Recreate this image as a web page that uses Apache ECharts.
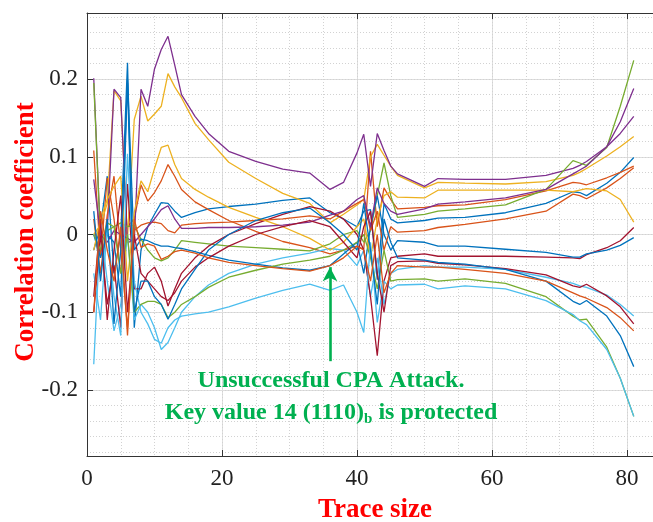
<!DOCTYPE html>
<html>
<head>
<meta charset="utf-8">
<script src="https://cdn.jsdelivr.net/npm/echarts@6/dist/echarts.min.js"></script>
<style>
  html, body { margin: 0; padding: 0; background: #ffffff; }
  #chart { width: 653px; height: 522px; }
</style>
</head>
<body>
<div id="chart"></div>
<script>
// Trace sizes at which the correlation of each key guess was sampled
const traceSize = [1,2,3,4,5,6,7,8,9,10,11,12,13,14,16,18,21,25,29,33,36,38,40,41,42,43,44,45,46,50,52,56,62,68,72,73,74,77,79,81];

// Correlation coefficient of every key guess (16 guesses for a 4-bit key)
const guess01 = [-0.02,0.01,0.075,-0.05,0.0,0.221,-0.12,-0.02,0.01,0.026, 0.041,0.04,0.03,0.022,0.028,0.033,0.036,0.039,0.044,0.047, 0.028,0.02,0.01,0.03,0.032,-0.058,0.04,0.02,0.015,0.018, 0.021,0.022,0.028,0.04,0.055,0.054,0.05,0.066,0.08,0.099];
const guess02 = [0.108,-0.03,0.073,0.02,-0.05,0.01,0.02,0.064,0.043,0.054, 0.069,0.09,0.075,0.058,0.042,0.032,0.018,0.004,-0.009,-0.017, -0.025,-0.02,-0.015,-0.019,0.107,0.01,0.06,0.045,0.033,0.035, 0.037,0.038,0.045,0.056,0.067,0.066,0.064,0.073,0.08,0.088];
const guess03 = [0.0,0.012,0.04,0.185,0.172,-0.005,0.148,0.178,0.146,0.155, 0.165,0.207,0.19,0.176,0.143,0.122,0.093,0.072,0.053,0.04, 0.015,0.026,0.038,0.045,0.1,0.116,0.102,0.088,0.076,0.06, 0.067,0.066,0.065,0.068,0.076,0.08,0.085,0.101,0.113,0.126];
const guess04 = [0.201,-0.005,0.005,0.187,0.176,-0.01,-0.008,0.187,0.165,0.213, 0.238,0.255,0.218,0.18,0.152,0.13,0.107,0.094,0.084,0.079, 0.058,0.067,0.105,0.129,0.062,0.13,0.108,0.088,0.078,0.062, 0.072,0.071,0.071,0.076,0.085,0.089,0.094,0.113,0.13,0.152];
const guess05 = [0.195,-0.005,0.005,0.01,0.015,0.01,0.012,-0.006,-0.02,-0.03, -0.034,-0.03,-0.02,-0.008,-0.01,-0.012,-0.015,-0.017,-0.019,-0.021, -0.012,0.0,0.005,-0.01,0.005,0.05,0.092,0.05,0.022,0.026, 0.03,0.033,0.038,0.058,0.095,0.092,0.089,0.112,0.165,0.224];
const guess06 = [-0.167,0.011,-0.06,-0.124,-0.09,0.0,-0.11,-0.09,-0.1,-0.12, -0.148,-0.139,-0.12,-0.1,-0.08,-0.065,-0.05,-0.038,-0.03,-0.024, -0.018,-0.02,-0.04,-0.02,-0.08,-0.03,-0.09,-0.05,-0.045,-0.04, -0.042,-0.042,-0.045,-0.055,-0.063,-0.066,-0.068,-0.078,-0.09,-0.105];
const guess07 = [-0.1,0.0,-0.09,-0.04,-0.12,0.065,-0.07,-0.07,-0.05,-0.042, -0.06,-0.092,-0.07,-0.05,-0.03,-0.015,0.0,0.014,0.026,0.036, 0.03,0.02,0.0,-0.02,-0.08,-0.156,-0.06,-0.03,-0.028,-0.025, -0.028,-0.028,-0.028,-0.029,-0.03,-0.031,-0.026,-0.017,-0.008,0.009];
const guess08 = [0.0,-0.03,0.0,-0.01,-0.08,0.2,-0.02,-0.006,-0.008,-0.012, -0.015,-0.015,-0.017,-0.018,-0.022,-0.027,-0.033,-0.038,-0.043,-0.046, -0.04,-0.025,-0.01,-0.05,0.01,0.05,0.0,-0.02,-0.008,-0.01, -0.015,-0.015,-0.019,-0.023,-0.029,-0.029,-0.025,-0.02,-0.014,-0.004];
const guess09 = [0.02,-0.05,0.025,0.075,-0.02,-0.12,0.005,0.012,0.015,0.016, 0.014,0.005,0.002,0.012,0.014,0.015,0.016,0.018,0.02,0.024, 0.02,0.03,0.04,0.045,0.005,0.03,-0.02,0.01,0.003,0.005, 0.009,0.013,0.02,0.03,0.052,0.05,0.046,0.06,0.072,0.086];
const guess10 = [-0.02,0.02,0.045,0.062,0.075,-0.06,0.028,0.069,0.055,0.085, 0.112,0.115,0.09,0.072,0.058,0.048,0.035,0.022,0.01,-0.005, -0.02,-0.01,0.01,0.02,-0.03,0.02,0.05,0.055,0.048,0.047, 0.057,0.057,0.057,0.057,0.055,0.057,0.059,0.056,0.045,0.016];
const guess11 = [0.071,0.0,-0.01,0.005,0.0,-0.005,-0.01,0.0,0.01,0.02, 0.032,0.037,0.02,0.008,0.008,0.009,0.009,0.01,0.012,0.016, 0.025,0.03,0.045,0.05,0.01,0.06,0.04,0.03,0.026,0.033, 0.039,0.042,0.047,0.058,0.078,0.083,0.088,0.113,0.145,0.188];
const guess12 = [0.0,-0.02,0.015,0.01,-0.05,0.0,-0.1,-0.09,-0.086,-0.086, -0.09,-0.107,-0.1,-0.09,-0.08,-0.068,-0.055,-0.046,-0.038,-0.033, -0.028,-0.02,-0.01,0.0,-0.03,-0.07,-0.02,-0.06,-0.058,-0.057, -0.06,-0.057,-0.063,-0.08,-0.105,-0.11,-0.109,-0.145,-0.185,-0.234];
const guess13 = [-0.05,-0.11,0.01,-0.08,-0.13,0.104,-0.06,-0.1,-0.115,-0.135, -0.14,-0.12,-0.11,-0.105,-0.102,-0.1,-0.093,-0.082,-0.072,-0.064, -0.072,-0.065,-0.1,-0.126,-0.01,-0.113,-0.06,-0.07,-0.065,-0.064, -0.07,-0.066,-0.07,-0.085,-0.103,-0.111,-0.116,-0.148,-0.185,-0.234];
const guess14 = [-0.08,0.02,-0.11,-0.02,0.05,-0.1,0.0,-0.05,-0.06,-0.07, -0.08,-0.085,-0.075,-0.06,-0.042,-0.03,-0.015,0.0,0.01,0.018, 0.01,-0.01,-0.03,0.01,0.03,-0.05,-0.1,-0.04,-0.035,-0.034, -0.037,-0.039,-0.044,-0.052,-0.066,-0.068,-0.064,-0.079,-0.093,-0.115];
const guess15 = [0.03,-0.06,0.02,-0.115,-0.02,0.195,-0.1,-0.06,-0.06,-0.08, -0.09,-0.109,-0.09,-0.07,-0.045,-0.02,0.0,0.018,0.028,0.034, 0.015,0.0,-0.02,0.04,-0.02,-0.09,0.02,-0.01,-0.03,-0.033, -0.036,-0.038,-0.045,-0.06,-0.086,-0.09,-0.085,-0.105,-0.13,-0.17];
const guess16 = [-0.1,0.03,-0.02,-0.06,0.01,-0.13,0.02,-0.0165,-0.012,-0.015, -0.032,-0.028,-0.022,-0.02,-0.024,-0.03,-0.036,-0.04,-0.044,-0.047, -0.04,-0.03,-0.015,-0.02,-0.06,0.0,-0.075,-0.05,-0.04,-0.042, -0.042,-0.045,-0.05,-0.06,-0.075,-0.079,-0.082,-0.094,-0.107,-0.124];

const guesses = [guess01, guess02, guess03, guess04, guess05, guess06, guess07, guess08,
                 guess09, guess10, guess11, guess12, guess13, guess14, guess15, guess16];

// Default line colour order of the plotting tool
const lineColors = ['#0072BD', '#D95319', '#EDB120', '#7E2F8E', '#77AC30', '#4DBEEE', '#A2142F'];

// Axis limits and label text
const xLimit = [0, 83.85];
const yLimit = [-0.285, 0.285];
const yMinorLimit = [-0.28, 0.28];
const xTitle = 'Trace size';
const yTitle = 'Correlation coefficient';
const noteLine1 = 'Unsuccessful CPA Attack.';
const noteKey = 'Key value 14 (1110)';
const noteSub = 'b';
const noteTail = ' is protected';

// Arrow pointing at the correct-key curve
const arrowFrom = [36, -0.163];
const arrowTo = [36, -0.042];

// Plot box in pixels
const box = { left: 87, right: 0, top: 13, bottom: 66 };
const boxHeight = 522 - box.top - box.bottom;
const pxPerUnit = boxHeight / (yLimit[1] - yLimit[0]);
const inset = (yLimit[1] - yMinorLimit[1]) * pxPerUnit;

const serif = '"Liberation Serif", "Times New Roman", serif';
const axisColor = '#333333';
const majorGrid = '#dedede';
const minorGrid = '#d2d2d2';
const noteGreen = '#00B050';

const isMultiple = (v, step) => Math.abs(v / step - Math.round(v / step)) < 1e-6;

const hidden = { show: false };

const chart = echarts.init(document.getElementById('chart'), null, { renderer: 'canvas' });

const curveSeries = guesses.map((vals, i) => ({
  type: 'line',
  xAxisIndex: 0,
  yAxisIndex: 0,
  data: traceSize.map((x, j) => [x, vals[j]]),
  symbol: 'none',
  showSymbol: false,
  silent: true,
  animation: false,
  z: 3,
  lineStyle: { width: 1.3, color: lineColors[i % lineColors.length] },
  itemStyle: { color: lineColors[i % lineColors.length] }
}));

const arrowSeries = {
  type: 'line',
  xAxisIndex: 0,
  yAxisIndex: 0,
  data: [],
  silent: true,
  animation: false,
  z: 5,
  markLine: {
    silent: true,
    animation: false,
    symbol: ['none', 'arrow'],
    symbolSize: [11, 14],
    label: { show: false },
    lineStyle: { color: noteGreen, width: 2.6, type: 'solid' },
    data: [[{ coord: arrowFrom }, { coord: arrowTo }]]
  }
};

const option = {
  backgroundColor: '#ffffff',
  animation: false,
  grid: [
    { left: box.left, right: box.right, top: box.top, bottom: box.bottom, containLabel: false, outerBoundsMode: 'none' },
    { left: box.left, right: box.right, top: box.top, bottom: box.bottom, containLabel: false, outerBoundsMode: 'none' },
    { left: box.left, right: box.right, top: box.top + inset, bottom: box.bottom + inset, containLabel: false, outerBoundsMode: 'none' }
  ],
  xAxis: [
    {
      gridIndex: 0, type: 'value', min: xLimit[0], max: xLimit[1], position: 'bottom',
      axisLine: { show: true, onZero: false, lineStyle: { color: axisColor, width: 1 } },
      axisTick: { show: true, inside: true, length: 6, lineStyle: { color: axisColor } },
      axisLabel: {
        margin: 11, color: '#222222', fontFamily: serif, fontSize: 23,
        formatter: v => (isMultiple(v, 20) ? String(Math.round(v)) : '')
      },
      splitLine: { show: true, lineStyle: { color: majorGrid, width: 1 } }
    },
    {
      gridIndex: 0, type: 'value', min: xLimit[0], max: xLimit[1], position: 'top',
      axisLine: { show: true, onZero: false, lineStyle: { color: axisColor, width: 1 } },
      axisTick: { show: true, inside: true, length: 6, lineStyle: { color: axisColor } },
      axisLabel: hidden, splitLine: hidden
    },
    {
      gridIndex: 1, type: 'value', min: xLimit[0], max: xLimit[1], interval: 5,
      axisLine: hidden, axisTick: hidden, axisLabel: hidden,
      splitLine: { show: true, lineStyle: { color: minorGrid, width: 1, type: [1, 2] } }
    },
    {
      gridIndex: 2, type: 'value', min: xLimit[0], max: xLimit[1],
      axisLine: hidden, axisTick: hidden, axisLabel: hidden, splitLine: hidden
    }
  ],
  yAxis: [
    {
      gridIndex: 0, type: 'value', min: yLimit[0], max: yLimit[1], splitNumber: 5, position: 'left',
      axisLine: { show: true, onZero: false, lineStyle: { color: axisColor, width: 1 } },
      axisTick: { show: true, inside: true, length: 6, lineStyle: { color: axisColor } },
      axisLabel: {
        margin: 9, color: '#222222', fontFamily: serif, fontSize: 23,
        formatter: v => (isMultiple(v, 0.1) ? String(Math.round(v * 10) / 10) : '')
      },
      splitLine: { show: true, lineStyle: { color: majorGrid, width: 1 } }
    },
    {
      gridIndex: 1, type: 'value', min: yLimit[0], max: yLimit[1],
      axisLine: hidden, axisTick: hidden, axisLabel: hidden, splitLine: hidden
    },
    {
      gridIndex: 2, type: 'value', min: yMinorLimit[0], max: yMinorLimit[1], interval: 0.02,
      axisLine: hidden, axisTick: hidden, axisLabel: hidden,
      splitLine: { show: true, lineStyle: { color: minorGrid, width: 1, type: [1, 2] } }
    }
  ],
  series: curveSeries.concat([arrowSeries]),
  graphic: [
    {
      type: 'text', x: 26, y: 232, rotation: Math.PI / 2, z: 10,
      style: {
        text: yTitle, fill: '#FF0000', font: 'bold 27px ' + serif,
        align: 'center', verticalAlign: 'middle', textAlign: 'center', textVerticalAlign: 'middle'
      }
    },
    {
      type: 'text', x: 375, y: 510, z: 10,
      style: {
        text: xTitle, fill: '#FF0000', font: 'bold 27px ' + serif,
        align: 'center', verticalAlign: 'middle', textAlign: 'center', textVerticalAlign: 'middle'
      }
    },
    {
      type: 'text', x: 331, y: 381, z: 10,
      style: {
        text: noteLine1, fill: noteGreen, font: 'bold 24px ' + serif,
        align: 'center', verticalAlign: 'middle', textAlign: 'center', textVerticalAlign: 'middle'
      }
    },
    {
      type: 'text', x: 331, y: 413, z: 10,
      style: {
        text: '{t|' + noteKey + '}{s|' + noteSub + '}{t|' + noteTail + '}',
        align: 'center', verticalAlign: 'middle', textAlign: 'center', textVerticalAlign: 'middle',
        rich: {
          t: { fill: noteGreen, color: noteGreen, fontFamily: serif, fontWeight: 'bold', fontSize: 24, lineHeight: 28, verticalAlign: 'middle' },
          s: { fill: noteGreen, color: noteGreen, fontFamily: serif, fontWeight: 'bold', fontSize: 15, lineHeight: 15, verticalAlign: 'bottom' }
        }
      }
    }
  ]
};

chart.setOption(option);
</script>
</body>
</html>
